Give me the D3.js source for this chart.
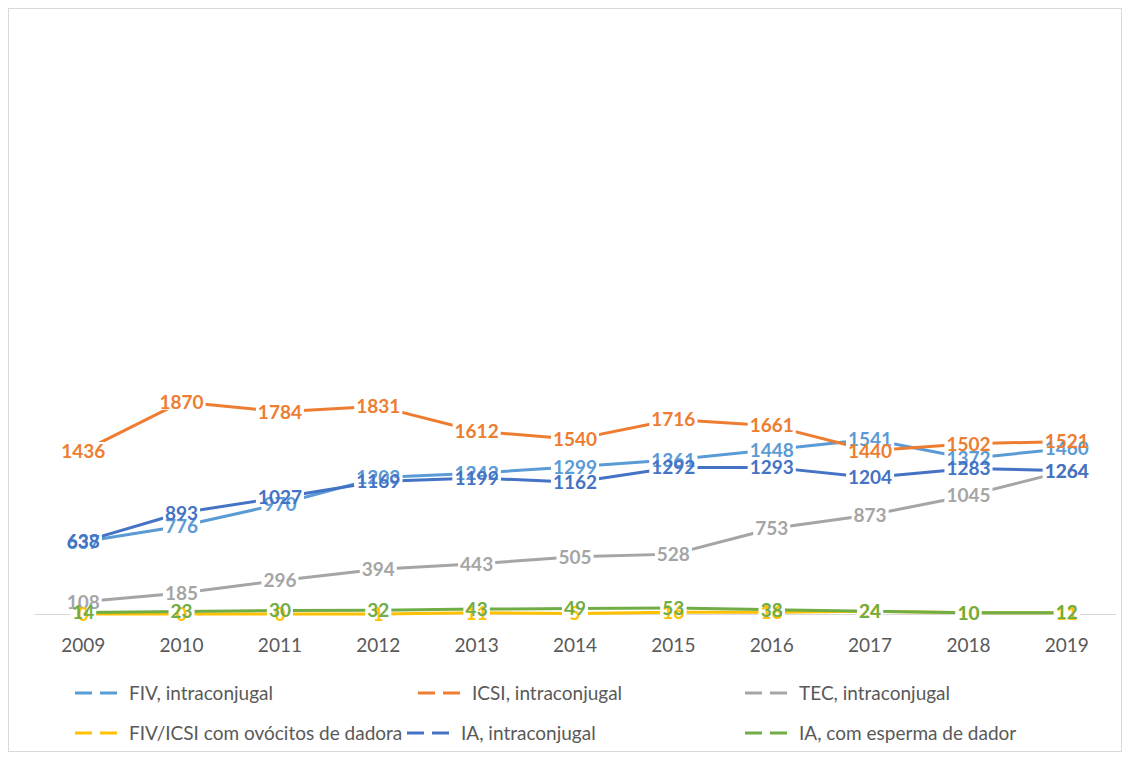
<!DOCTYPE html>
<html><head><meta charset="utf-8">
<script src="https://cdn.jsdelivr.net/npm/d3@7"></script>
<style>body{margin:0;background:#fff}svg{display:block}</style>
</head><body><svg id="c" width="1130" height="758"></svg>
<script>
const years = ["2009","2010","2011","2012","2013","2014","2015","2016","2017","2018","2019"];
const fivIntra   = [637, 776, 970, 1203, 1242, 1299, 1361, 1448, 1541, 1372, 1460];
const icsiIntra  = [1436, 1870, 1784, 1831, 1612, 1540, 1716, 1661, 1440, 1502, 1521];
const tecIntra   = [108, 185, 296, 394, 443, 505, 528, 753, 873, 1045, 1264];
const fivDonor   = [0, 0, 0, 1, 11, 5, 16, 16, 24, 10, 11];
const iaIntra    = [638, 893, 1027, 1169, 1199, 1162, 1292, 1293, 1204, 1283, 1264];
const iaDonor    = [14, 23, 30, 32, 43, 49, 53, 38, 24, 10, 12];
const seriesNames = ["FIV, intraconjugal","ICSI, intraconjugal","TEC, intraconjugal","FIV/ICSI com ovócitos de dadora","IA, intraconjugal","IA, com esperma de dador"];
const seriesColors = ["#5B9BD5","#ED7D31","#A5A5A5","#FFC000","#4472C4","#70AD47"];
const seriesValues = [fivIntra, icsiIntra, tecIntra, fivDonor, iaIntra, iaDonor];
const yMax = 5000;

const svg = d3.select("#c");
svg.append("rect").attr("x",8.5).attr("y",8.5).attr("width",1113).attr("height",743)
  .attr("fill","#fff").attr("stroke","#d9d9d9").attr("stroke-width",1);

const x = d3.scaleBand().domain(years).range([34, 1116]);
const y = d3.scaleLinear().domain([0, yMax]).range([614, 47]);
const cx = d => x(d) + x.bandwidth()/2;

svg.append("line").attr("x1",34).attr("x2",1116).attr("y1",y(0)+0.5).attr("y2",y(0)+0.5)
  .attr("stroke","#d9d9d9").attr("stroke-width",1);

const xa = svg.append("g").attr("transform",`translate(0,${y(0)+32})`)
  .call(d3.axisBottom(x).tickSize(0).tickPadding(0));
xa.select(".domain").remove();
xa.selectAll("text").attr("font-family","Lato, 'Open Sans', sans-serif").attr("font-size",19)
  .attr("fill","#595959").attr("dy","0.32em");

const series = seriesNames.map((n,i)=>({name:n,color:seriesColors[i],values:seriesValues[i]}));
const line = d3.line().x((d,i)=>cx(years[i])).y(d=>y(d));

const gl = svg.append("g");
series.forEach(s=>{
  gl.append("path").datum(s.values).attr("d",line).attr("fill","none")
    .attr("stroke",s.color).attr("stroke-width",3).attr("stroke-linejoin","round");
});

const fontLbl = "Lato, 'Open Sans', sans-serif";
const gb = svg.append("g"), gt = svg.append("g");
series.forEach(s=>{
  s.values.forEach((v,i)=>{
    const t = gt.append("text").attr("x",cx(years[i])).attr("y",y(v)).attr("dy","0.36em")
      .attr("text-anchor","middle").attr("font-family",fontLbl).attr("font-size",19)
      .attr("font-weight",700).attr("fill",s.color).text(v);
    const bb = t.node().getBBox();
    gb.append("rect").attr("x",bb.x-2).attr("y",bb.y+3).attr("width",bb.width+4).attr("height",bb.height-6).attr("fill","#fff");
  });
});

const legX = [[75,418,745],[75,407,745]];
const legY = [693, 733];
series.forEach((s,i)=>{
  const r = Math.floor(i/3), c = i%3;
  const g = svg.append("g").attr("transform",`translate(${legX[r][c]},${legY[r]})`);
  g.append("line").attr("x1",0).attr("x2",50).attr("y1",0).attr("y2",0)
    .attr("stroke",s.color).attr("stroke-width",3).attr("stroke-dasharray","17,8");
  g.append("text").attr("x",54).attr("y",0).attr("dy","0.35em").attr("font-family",fontLbl)
    .attr("font-size",19).attr("fill","#595959").text(s.name);
});
</script></body></html>
